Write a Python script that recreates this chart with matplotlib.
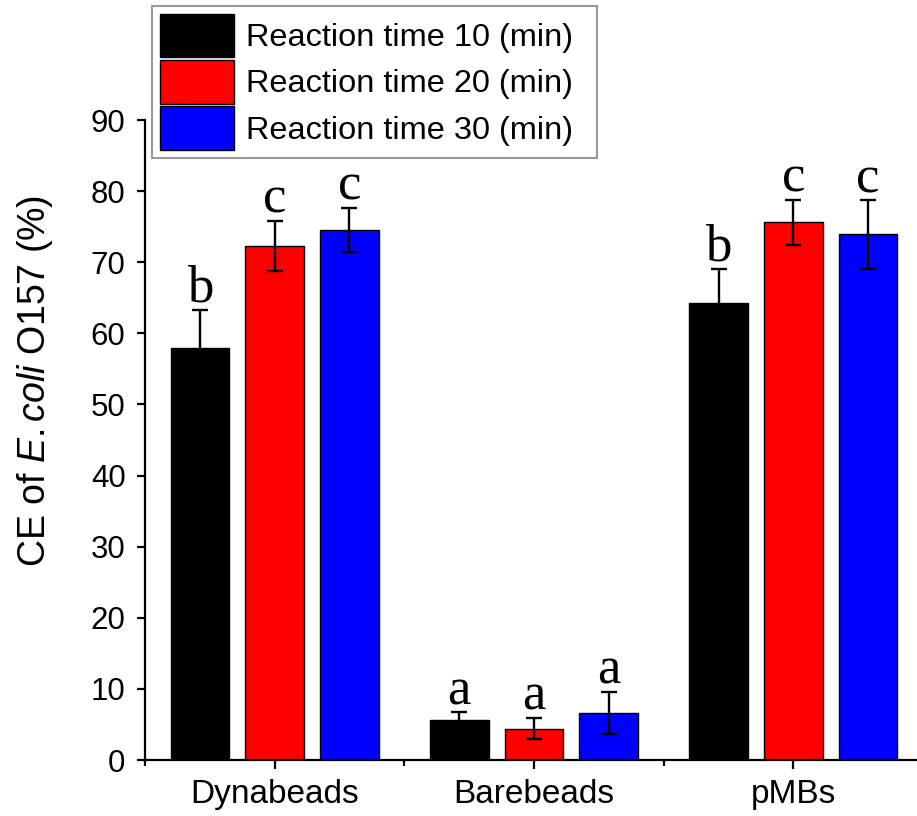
import numpy as np
import matplotlib
matplotlib.use('Agg')
import matplotlib.pyplot as plt
from matplotlib.ticker import FixedLocator

# Data
groups = ['Dynabeads', 'Barebeads', 'pMBs']
series_labels = ['Reaction time 10 (min)', 'Reaction time 20 (min)', 'Reaction time 30 (min)']
colors = ['#000000', '#ff0000', '#0000ff']

ce_10 = [57.9, 5.6, 64.3]
ce_20 = [72.3, 4.4, 75.6]
ce_30 = [74.5, 6.6, 73.9]
err_10 = [5.4, 1.1, 4.8]
err_20 = [3.5, 1.5, 3.2]
err_30 = [3.1, 3.0, 4.8]

letters_10 = ['b', 'a', 'b']
letters_20 = ['c', 'a', 'c']
letters_30 = ['c', 'a', 'c']

yticks = [0, 10, 20, 30, 40, 50, 60, 70, 80, 90]

plt.rcParams['font.family'] = 'Liberation Sans'
plt.rcParams['mathtext.fontset'] = 'custom'
plt.rcParams['mathtext.rm'] = 'Liberation Sans'
plt.rcParams['mathtext.it'] = 'Liberation Sans:italic'

fig = plt.figure(figsize=(9.17, 8.16), dpi=100)
ax = fig.add_axes([145 / 917, 56 / 816, 772 / 917, 640 / 816])

x = np.arange(len(groups))
width = 0.227
offset = 0.288

values = [ce_10, ce_20, ce_30]
errors = [err_10, err_20, err_30]
letters = [letters_10, letters_20, letters_30]

for i, (vals, errs, lets, col, lab) in enumerate(zip(values, errors, letters, colors, series_labels)):
    pos = x + (i - 1) * offset
    ax.bar(pos, vals, width, color=col, edgecolor='black', linewidth=1.0, label=lab, zorder=2)
    ax.errorbar(pos, vals, yerr=errs, fmt='none', ecolor='black', elinewidth=1.7,
                capsize=6, capthick=1.7, zorder=3)
    for p, v, e, t in zip(pos, vals, errs, lets):
        ax.annotate(t, (p, v + e), xytext=(0, 6), textcoords='offset points',
                    ha='center', va='baseline', fontsize=38, family='Liberation Serif')

ax.set_xlim(-0.5, 2.477)
ax.set_ylim(0, 90)
ax.set_yticks(yticks)
ax.set_xticks(x)
ax.set_xticklabels(groups)
ax.xaxis.set_minor_locator(FixedLocator([-0.5, 0.5, 1.5]))

for side in ['top', 'right']:
    ax.spines[side].set_visible(False)
for side in ['left', 'bottom']:
    ax.spines[side].set_linewidth(1.6)

ax.tick_params(axis='y', which='major', direction='out', length=6, width=1.6,
               labelsize=22.5, pad=8)
ax.tick_params(axis='x', which='major', direction='out', length=6.5, width=1.6,
               labelsize=24, pad=7)
ax.tick_params(axis='x', which='minor', direction='out', length=4.5, width=1.6)

ax.set_ylabel('CE of $\\it{E.coli}$ O157 (%)', fontsize=27, va='center')
ax.yaxis.set_label_coords(-0.142, 0.592)

# legend box spans x 152..597 px, y 6..155 px (from top) in the reference
leg = ax.legend(loc='upper left',
                bbox_to_anchor=(152 / 917, 1 - 155 / 816, 445 / 917, 149 / 816),
                bbox_transform=fig.transFigure, mode='expand', borderaxespad=0,
                fontsize=23.4, frameon=True, fancybox=False, handlelength=2.28,
                handleheight=1.69, handletextpad=0.36, labelspacing=0.08, borderpad=0.24)
leg.get_frame().set_edgecolor('#808080')
leg.get_frame().set_linewidth(1.5)
leg.set_clip_on(False)

fig.savefig('out.png', dpi=100)
